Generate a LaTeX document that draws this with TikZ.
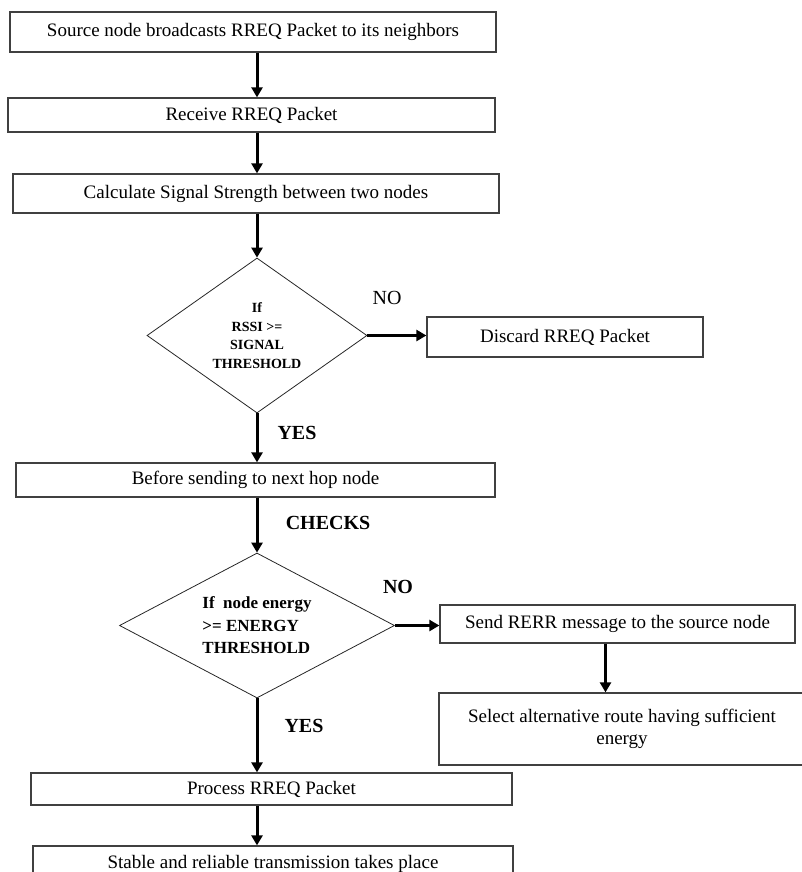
\documentclass[tikz,border=0pt]{standalone}
\usepackage{fontspec}
\setmainfont{Liberation Serif}
\usetikzlibrary{shapes.geometric,arrows.meta,positioning}

\begin{document}
\begin{tikzpicture}[x=1pt,y=-1pt,
  box/.style={draw=black!75,line width=1.3pt,rectangle,inner sep=0pt,font=\fontsize{19}{22}\selectfont},
  cond/.style={draw=black!85,line width=0.8pt,diamond,inner sep=0pt,align=center,font=\bfseries\fontsize{14}{18.5}\selectfont},
  lab/.style={font=\fontsize{20}{24}\selectfont},
  blab/.style={font=\bfseries\fontsize{20}{24}\selectfont},
  >={Triangle[width=11pt,length=10pt]}]
\useasboundingbox (0,0) rectangle (802,872);

\node[box,minimum width=486pt,minimum height=40pt] (b_src) at (253,32) {Source node broadcasts RREQ Packet to its neighbors};
\node[box,minimum width=487pt,minimum height=34pt] (b_recv) at (251.5,115) {Receive RREQ Packet};
\node[box,minimum width=486pt,minimum height=39pt] (b_calc) at (256,193.5) {Calculate Signal Strength between two nodes};
\node[cond,aspect=1.42,minimum width=220pt,minimum height=155pt] (d_rssi) at (257,335.5) {If\\RSSI >=\\SIGNAL\\THRESHOLD};
\node[box,minimum width=276pt,minimum height=40pt] (b_drop) at (565,337) {Discard RREQ Packet};
\node[box,minimum width=479pt,minimum height=34pt] (b_hop) at (255.5,480) {Before sending to next hop node};
\node[cond,aspect=1.9,minimum width=275pt,minimum height=145pt,align=left,font=\bfseries\fontsize{17}{22.5}\selectfont] (d_energy) at (257,625.5) {If~ node energy\\>= ENERGY\\THRESHOLD};
\node[box,minimum width=355pt,minimum height=38pt] (b_rerr) at (617.5,624) {Send RERR message to the source node};
\node[box,minimum width=366pt,minimum height=72pt,align=center] (b_alt) at (622,729) {Select alternative route having sufficient\\energy};
\node[box,minimum width=481pt,minimum height=32pt] (b_proc) at (271.5,789) {Process RREQ Packet};
\node[box,minimum width=480pt,minimum height=36pt] (b_stable) at (273,864) {Stable and reliable transmission takes place};

\node[lab] (l_no1) at (387,298) {NO};
\node[blab] (l_yes1) at (297,433) {YES};
\node[blab] (l_chk) at (328,523) {CHECKS};
\node[blab] (l_no2) at (398,587) {NO};
\node[blab] (l_yes2) at (304,726) {YES};

\path[->,line width=3pt]
(b_src.south -| d_rssi) edge (b_recv.north -| d_rssi)
(b_recv.south -| d_rssi) edge (b_calc.north -| d_rssi)
(b_calc.south -| d_rssi) edge (d_rssi.north)
(d_rssi.east) edge (b_drop.west |- d_rssi.east)
(d_rssi.south) edge (b_hop.north -| d_rssi)
(b_hop.south -| d_rssi) edge (d_energy.north)
(d_energy.east) edge (b_rerr.west |- d_energy.east)
([xshift=-12pt]b_rerr.south) edge ([xshift=-12pt]b_rerr.south |- b_alt.north)
(d_energy.south) edge (b_proc.north -| d_energy)
(b_proc.south -| d_energy) edge (b_stable.north -| d_energy)
; %end path
\end{tikzpicture}
\end{document}
